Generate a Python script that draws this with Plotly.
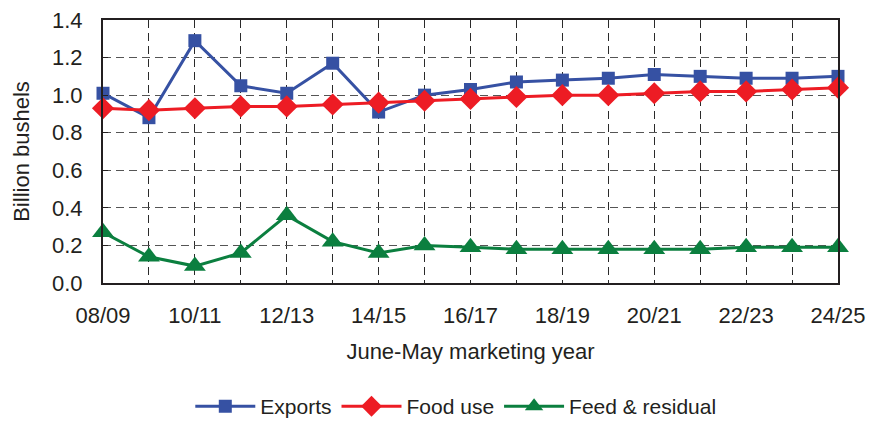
import plotly.graph_objects as go

# Marketing years (June-May)
years = ["08/09", "09/10", "10/11", "11/12", "12/13", "13/14", "14/15", "15/16",
         "16/17", "17/18", "18/19", "19/20", "20/21", "21/22", "22/23", "23/24", "24/25"]

# Billion bushels
exports = [1.01, 0.88, 1.29, 1.05, 1.01, 1.17, 0.91, 1.00,
           1.03, 1.07, 1.08, 1.09, 1.11, 1.10, 1.09, 1.09, 1.10]
food_use = [0.93, 0.92, 0.93, 0.94, 0.94, 0.95, 0.96, 0.97,
            0.98, 0.99, 1.00, 1.00, 1.01, 1.02, 1.02, 1.03, 1.04]
feed_residual = [0.27, 0.14, 0.09, 0.16, 0.36, 0.22, 0.16, 0.20,
                 0.19, 0.18, 0.18, 0.18, 0.18, 0.18, 0.19, 0.19, 0.19]

# Only every other year is labelled on the axis
tick_text = [y if i % 2 == 0 else "" for i, y in enumerate(years)]

FONT = "Liberation Sans, Arial, sans-serif"
TXT = "#231f20"
FS = 22

fig = go.Figure()
fig.add_trace(go.Scatter(
    x=years, y=exports, name="Exports", mode="lines+markers", cliponaxis=False,
    line=dict(color="#3651a3", width=3),
    marker=dict(symbol="square", size=13, color="#3651a3"),
))
fig.add_trace(go.Scatter(
    x=years, y=food_use, name="Food use", mode="lines+markers", cliponaxis=False,
    line=dict(color="#ed1c24", width=3),
    marker=dict(symbol="diamond", size=17, color="#ed1c24"),
))
fig.add_trace(go.Scatter(
    x=years, y=feed_residual, name="Feed & residual", mode="lines+markers", cliponaxis=False,
    line=dict(color="#0b7f3f", width=3),
    marker=dict(symbol="triangle-up", size=19, color="#0b7f3f"),
))

fig.update_layout(
    width=881, height=421,
    margin=dict(l=103, r=43, t=20, b=138, autoexpand=False),
    paper_bgcolor="white", plot_bgcolor="white",
    font=dict(family=FONT, size=FS, color=TXT),
    showlegend=True,
    legend=dict(
        orientation="h", x=0.48, xanchor="center", y=-0.47, yanchor="middle",
        font=dict(size=21, color=TXT), itemwidth=60, tracegroupgap=0,
        bgcolor="rgba(0,0,0,0)", borderwidth=0,
    ),
)

fig.update_xaxes(
    type="category", categoryorder="array", categoryarray=years,
    range=[0, 16], automargin=False,
    tickmode="array", tickvals=years, ticktext=tick_text,
    showgrid=True, gridcolor="#2a2a2a", griddash="8px,5px", gridwidth=1,
    showline=True, linecolor="#231f20", linewidth=2, mirror=True,
    ticks="", ticklabelstandoff=12,
    tickfont=dict(size=FS, color=TXT),
    title=dict(text="June-May marketing year", font=dict(size=FS, color=TXT), standoff=16),
    zeroline=False,
)
fig.update_yaxes(
    range=[0, 1.4], tickmode="array", automargin=False,
    tickvals=[0, 0.2, 0.4, 0.6, 0.8, 1.0, 1.2, 1.4],
    ticktext=["0.0", "0.2", "0.4", "0.6", "0.8", "1.0", "1.2", "1.4"],
    showgrid=True, gridcolor="#555555", griddash="8px,5px", gridwidth=1,
    showline=True, linecolor="#231f20", linewidth=2, mirror=True,
    ticks="inside", ticklen=5, tickcolor="#231f20", ticklabelstandoff=14,
    tickfont=dict(size=FS, color=TXT),
    title=dict(text="Billion bushels", font=dict(size=FS, color=TXT), standoff=16),
    zeroline=False,
)

fig.write_html("out.html")
